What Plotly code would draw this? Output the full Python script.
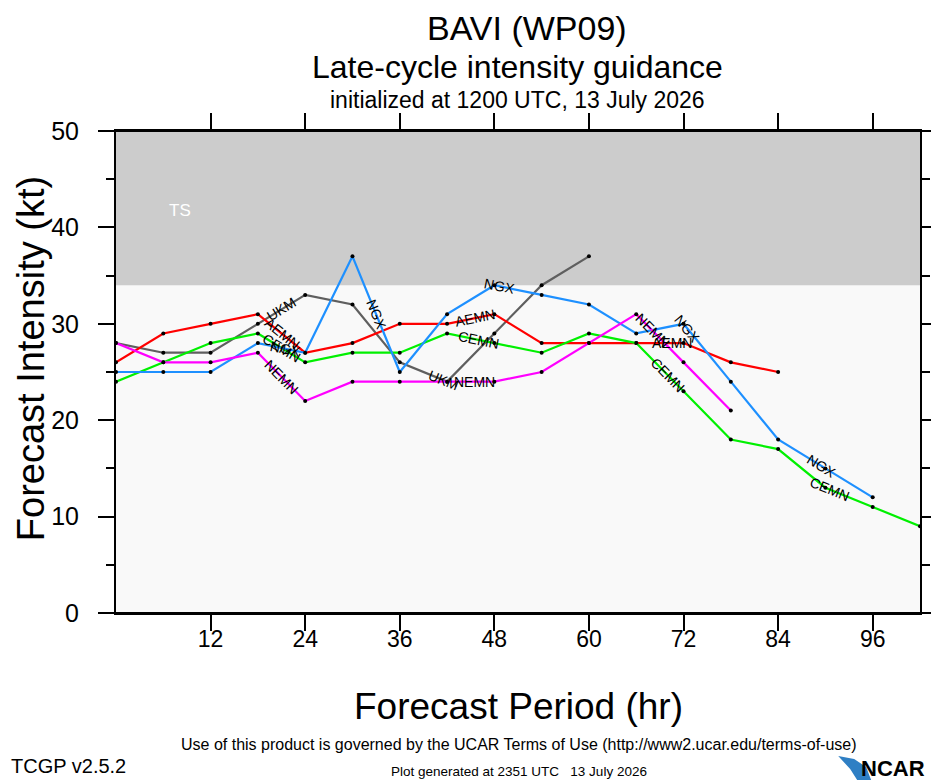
import math
import numpy as np
import plotly.graph_objects as go

# forecast hours and model intensities (kt)
hours = [0, 6, 12, 18, 24, 30, 36, 42, 48, 54, 60, 66, 72, 78, 84, 90, 96, 102]

ukm = [28, 27, 27, 30, 33, 32, 26, 24, 29, 34, 37]
aemn = [26, 29, 30, 31, 27, 28, 30, 30, 31, 28, 28, 28, 28, 26, 25]
cemn = [24, 26, 28, 29, 26, 27, 27, 29, 28, 27, 29, 28, 23, 18, 17, 13, 11, 9]
ngx = [25, 25, 25, 28, 27, 37, 25, 31, 34, 33, 32, 29, 30, 24, 18, 15, 12]
nemn = [28, 26, 26, 27, 22, 24, 24, 24, 24, 25, 28, 31, 26, 21]

x_ticks = [12, 24, 36, 48, 60, 72, 84, 96]
y_ticks = [0, 10, 20, 30, 40, 50]
ts_floor = 34

FONT = "Liberation Sans, Arial, Helvetica, sans-serif"
X_MAX = 102
Y_MAX = 50
PLOT_W = 806
PLOT_H = 482

models = [
    ("UKM", ukm, "#5f5f5f", [21, 41.5]),
    ("AEMN", aemn, "#ff0000", [21, 45.5, 70.5]),
    ("CEMN", cemn, "#00f000", [21, 46, 70, 90.5]),
    ("NGX", ngx, "#1e90ff", [21.5, 33, 48.6, 72.5, 89.5]),
    ("NEMN", nemn, "#ff00ff", [21, 45.5, 68]),
]

fig = go.Figure()

ux = PLOT_W / X_MAX
uy = PLOT_H / Y_MAX

for name, vals, color, label_hrs in models:
    hrs = hours[:len(vals)]
    fig.add_trace(go.Scatter(
        x=hrs, y=vals, mode="lines+markers", name=name,
        line=dict(color=color, width=2.2),
        marker=dict(color="black", size=4),
        showlegend=False,
    ))
    # line labels rotated along the segment, like the NCL plot
    for h in label_hrs:
        i = max(0, min(len(hrs) - 2, int(np.searchsorted(hrs, h, side="right")) - 1))
        dv = vals[i + 1] - vals[i]
        dh = hrs[i + 1] - hrs[i]
        ang = math.degrees(math.atan2(-dv * uy, dh * ux))
        fig.add_annotation(
            x=h, y=float(np.interp(h, hrs, vals)), text=name,
            showarrow=False, textangle=ang, xanchor="center", yanchor="middle",
            font=dict(family=FONT, size=14, color="black"),
        )

# TS band
fig.add_shape(type="rect", x0=0, x1=X_MAX, y0=ts_floor, y1=Y_MAX,
              fillcolor="#cccccc", line_width=0, layer="below")
fig.add_annotation(x=8.1, y=41.8, text="TS", showarrow=False,
                   xanchor="center", yanchor="middle",
                   font=dict(family=FONT, size=17, color="white"))

# frame lines stick out past the plot like the original
ext = 17 / PLOT_W
for yy in (0, 1):
    fig.add_shape(type="line", xref="paper", yref="paper",
                  x0=-ext, x1=1 + ext, y0=yy, y1=yy,
                  line=dict(color="black", width=2))


# page pixel -> paper coords (plot area spans x 116..922, y 131..613 on the page)
def px(xp):
    return (xp - 116) / PLOT_W


def py(yp):
    return (613 - yp) / PLOT_H


def note(txt, xx, yy, sz, anchor="center", angle=0, bold=False):
    fig.add_annotation(xref="paper", yref="paper", x=px(xx), y=py(yy),
                       text=f"<b>{txt}</b>" if bold else txt, showarrow=False,
                       xanchor=anchor, yanchor="middle", textangle=angle,
                       font=dict(family=FONT, size=sz, color="black"))


note("BAVI (WP09)", 528, 28, 34)
note("Late-cycle intensity guidance", 518, 67, 32)
note("initialized at 1200 UTC, 13 July 2026", 518, 100, 23)

note("Forecast Period (hr)", 520, 706, 37)
note("Forecast Intensity (kt)", 31, 359, 38, angle=-90)

# footer
note("Use of this product is governed by the UCAR Terms of Use (http://www2.ucar.edu/terms-of-use)",
     520, 744, 16)
note("TCGP v2.5.2", 9, 766, 20, anchor="left")
note("Plot generated at 2351 UTC   13 July 2026", 520, 771, 13.5)
note("NCAR", 929, 768, 22, anchor="right", bold=True)

# blue swoosh of the logo
pts = [(840, 756), (856, 759), (868, 767), (873, 780), (859, 780), (852, 769)]
path = "M " + " L ".join(f"{px(a)},{py(b)}" for a, b in pts) + " Z"
fig.add_shape(type="path", xref="paper", yref="paper", path=path,
              fillcolor="#2f7fc4", line_width=0)

fig.update_xaxes(
    range=[0, X_MAX], tickvals=x_ticks, ticks="outside", ticklen=16, tickwidth=2,
    tickcolor="black", showline=True, linecolor="black", linewidth=2, mirror="ticks",
    showgrid=False, zeroline=False, ticklabelstandoff=-12,
    tickfont=dict(family=FONT, size=23, color="black"),
)
fig.update_yaxes(
    range=[0, Y_MAX], tickvals=y_ticks, ticks="outside", ticklen=16, tickwidth=2,
    tickcolor="black", showline=True, linecolor="black", linewidth=2, mirror="ticks",
    showgrid=False, zeroline=False, ticklabelstandoff=14,
    tickfont=dict(family=FONT, size=25, color="black"),
    minor=dict(dtick=5, ticks="outside", ticklen=8, tickwidth=1.5, tickcolor="black",
               showgrid=False),
)

# the page puts the figure 8px in from the corner; margins make up for it
fig.update_layout(
    width=939, height=780,
    margin=dict(l=108, r=9, t=123, b=175),
    paper_bgcolor="white", plot_bgcolor="#f9f9f9",
    font=dict(family=FONT, color="black"),
)

fig.write_html("out.html")
